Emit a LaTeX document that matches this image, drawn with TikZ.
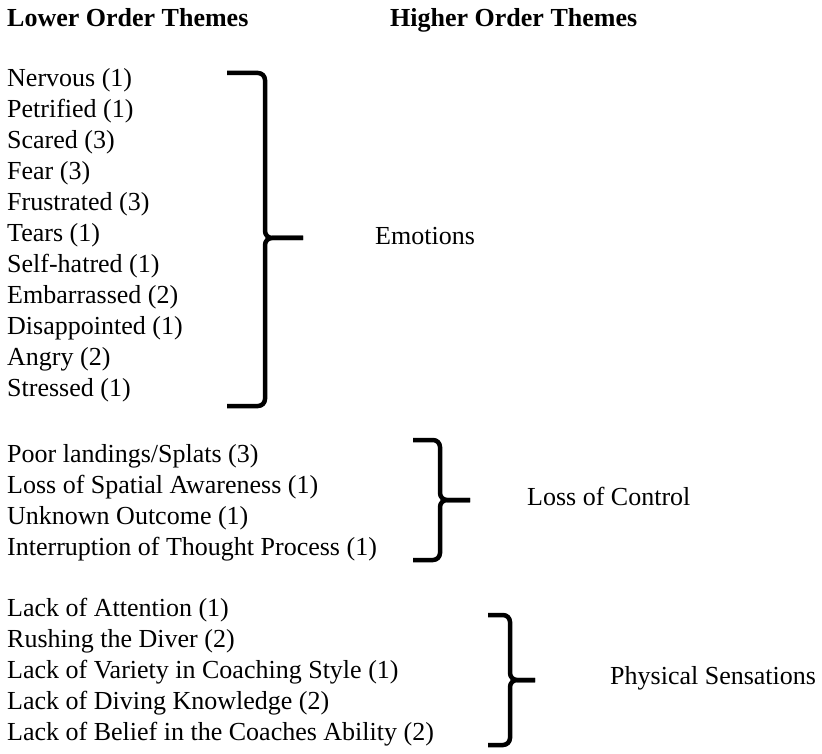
\documentclass[tikz,border=0pt]{standalone}
\usepackage{fontspec}
\setmainfont{Liberation Serif}
\usetikzlibrary{positioning}

\newcommand{\themebrace}[6]{%
	\draw[bracepen] (#1,#4) -- (#2,#4) -- (#2,#5) -- (#3,#5);
	\draw[bracepen] (#3,#5) -- (#2,#5) -- (#2,#6) -- (#1,#6);}

\begin{document}
\begin{tikzpicture}[x=1pt, y=-1pt,
	item/.style={inner sep=0pt, anchor=mid west, font=\fontsize{26}{31}\selectfont},
	head/.style={item, font=\fontsize{26}{31}\selectfont\bfseries},
	theme/.style={item},
	bracepen/.style={line width=4.5pt, rounded corners=7pt}
]
\useasboundingbox (0,0) rectangle (822,754);

\node[head] (lower) at (7,24) {Lower Order Themes};
\node[head] (higher) at (390,24) {Higher Order Themes};

\foreach \t [count=\i] in {Nervous (1), Petrified (1), Scared (3), Fear (3), Frustrated (3), Tears (1), Self-hatred (1), Embarrassed (2), Disappointed (1), Angry (2), Stressed (1)}
	\node[item] (emo\i) at (7, 84+31*\i-31) {\t};

\foreach \t [count=\i] in {Poor landings/Splats (3), Loss of Spatial Awareness (1), Unknown Outcome (1), Interruption of Thought Process (1)}
	\node[item] (ctl\i) at (7, 460+31*\i-31) {\t};

\foreach \t [count=\i] in {Lack of Attention (1), Rushing the Diver (2), Lack of Variety in Coaching Style (1), Lack of Diving Knowledge (2), Lack of Belief in the Coaches Ability (2)}
	\node[item] (phy\i) at (7, 614+31*\i-31) {\t};

% braces
\themebrace{227}{265}{303}{73}{238}{406}
\themebrace{413}{440}{470}{440}{500}{560}
\themebrace{488}{510}{535}{615}{680}{745}

\coordinate (emotip) at (303,242);
\coordinate (ctltip) at (470,503);
\coordinate (phytip) at (535,682);

\node[theme, right=72pt of emotip, anchor=mid west] (emotions) {Emotions};
\node[theme, right=57pt of ctltip, anchor=mid west] (control) {Loss of Control};
\node[theme, right=75pt of phytip, anchor=mid west] (physical) {Physical Sensations};

\end{tikzpicture}
\end{document}
